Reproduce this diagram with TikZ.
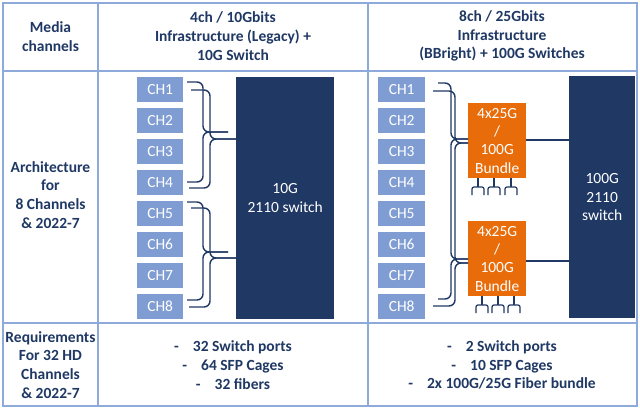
\documentclass[tikz,border=0pt]{standalone}
\usepackage{fontspec}
\setmainfont{Carlito}
\definecolor{tline}{HTML}{8EAADB}
\definecolor{chb}{HTML}{7F9DD3}
\definecolor{navy}{HTML}{203864}
\definecolor{org}{HTML}{E96C0A}
\definecolor{txt}{HTML}{1F3864}
\begin{document}
\begin{tikzpicture}[x=1pt,y=-1pt,
  hdr/.style={font=\fontsize{15.5}{18.8}\selectfont\bfseries, text=txt, align=center, inner sep=0pt},
  chbox/.style={fill=chb, minimum width=46pt, minimum height=25pt, inner sep=0pt, text=white,
    font=\fontsize{15.5}{18.8}\selectfont, anchor=north west},
  swbox/.style={fill=navy, inner sep=0pt, text=white, align=center,
    font=\fontsize{15.5}{18.8}\selectfont, anchor=north west},
  bundlebox/.style={fill=org, minimum width=58pt, minimum height=75pt, inner sep=0pt, text=white, align=center,
    font=\fontsize{15.5}{18.4}\selectfont, anchor=north west},
  brace/.style={draw=navy, line width=1.4pt, rounded corners=6pt},
  conn/.style={draw=navy, line width=1.4pt},
  fork/.style={draw=navy, line width=1.2pt, rounded corners=2pt},
  grid/.style={draw=tline, line width=2.5pt}
]
\useasboundingbox (0,0) rectangle (640,409);
\fill[white] (0,0) rectangle (640,409);

% table
\draw[grid] (3,3) rectangle (637,406);
\draw[grid] (3,71) -- (637,71);
\draw[grid] (3,323) -- (637,323);
\draw[grid] (98,3) -- (98,406);
\draw[grid] (368,3) -- (368,406);

% header texts
\node[hdr] (hm) at (50.5,37) {Media\\channels};
\node[hdr] (hl) at (233,36) {4ch / 10Gbits\\Infrastructure (Legacy) +\\10G Switch};
\node[hdr] (hr) at (502,36) {8ch / 25Gbits\\Infrastructure\\(BBright) + 100G Switches};
\node[hdr] (ha) at (50.5,195) {Architecture\\for\\8 Channels\\\& 2022-7};
\node[hdr] (hq) at (50.5,365) {Requirements\\For 32 HD\\Channels\\\& 2022-7};
\node[hdr] (ql) at (233,365) {-\hspace{14pt}32 Switch ports\\-\hspace{14pt}64 SFP Cages\\-\hspace{14pt}32 fibers};
\node[hdr] (qr) at (502,365) {-\hspace{14pt}2 Switch ports\\-\hspace{14pt}10 SFP Cages\\-\hspace{14pt}2x 100G/25G Fiber bundle};

% left architecture
\foreach \i in {1,...,8}{
  \node[chbox] (lch\i) at (137,{77+31*(\i-1)}) {CH\i};
  \node[chbox, minimum width=47pt] (rch\i) at (378,{77+31*(\i-1)}) {CH\i};
}
\node[swbox, minimum width=98pt, minimum height=242pt] (sw1) at (236,77) {10G\\2110 switch};

% left braces group 1
\draw[brace] (187,82) -| (203,132) -- (228,132);
\draw[brace] (228,132) -- (203,132) |- (187,182);
\draw[brace] (191,90) -| (210,139) -- (sw1.west |- 0,139);
\draw[brace] (sw1.west |- 0,139) -- (210,139) |- (189,188);
% left braces group 2
\draw[brace] (187,202) -| (203,252) -- (228,252);
\draw[brace] (228,252) -- (203,252) |- (187,300);
\draw[brace] (191,208) -| (210,258) -- (sw1.west |- 0,258);
\draw[brace] (sw1.west |- 0,258) -- (210,258) |- (189,307);

% right architecture
\node[bundlebox] (b1) at (468,103) {4x25G\\/\\100G\\Bundle};
\node[bundlebox] (b2) at (468,221) {4x25G\\/\\100G\\Bundle};
\node[swbox, minimum width=66pt, minimum height=242pt] (sw2) at (569,76) {100G\\2110\\switch};

\draw[conn] (b1.east |- 0,140) -- (sw2.west |- 0,140);
\draw[conn] (b2.east |- 0,261) -- (sw2.west |- 0,261);

% right braces
\draw[brace] (438,83) -| (451,139) -- (b1.west |- 0,139);
\draw[brace] (b1.west |- 0,139) -- (451,139) -- (451,259) -- (b2.west |- 0,259);
\draw[brace] (b2.west |- 0,259) -- (451,259) |- (438,299);
\draw[brace] (433,91) -| (455,143) -- (b1.west |- 0,143);
\draw[brace] (b1.west |- 0,143) -- (455,143) -- (455,263) -- (b2.west |- 0,263);
\draw[brace] (b2.west |- 0,263) -- (455,263) |- (433,306);

% forks under bundles
\foreach \c in {478,494,511}{
  \draw[conn, line width=1.2pt] (\c,178) -- (\c,187);
  \draw[fork] (\c-6,195) -- (\c-6,187) -- (\c+6,187) -- (\c+6,195);
}
\foreach \c in {482,498,514}{
  \draw[conn, line width=1.2pt] (\c,296) -- (\c,305);
  \draw[fork] (\c-6,313) -- (\c-6,305) -- (\c+6,305) -- (\c+6,313);
}
\end{tikzpicture}
\end{document}
